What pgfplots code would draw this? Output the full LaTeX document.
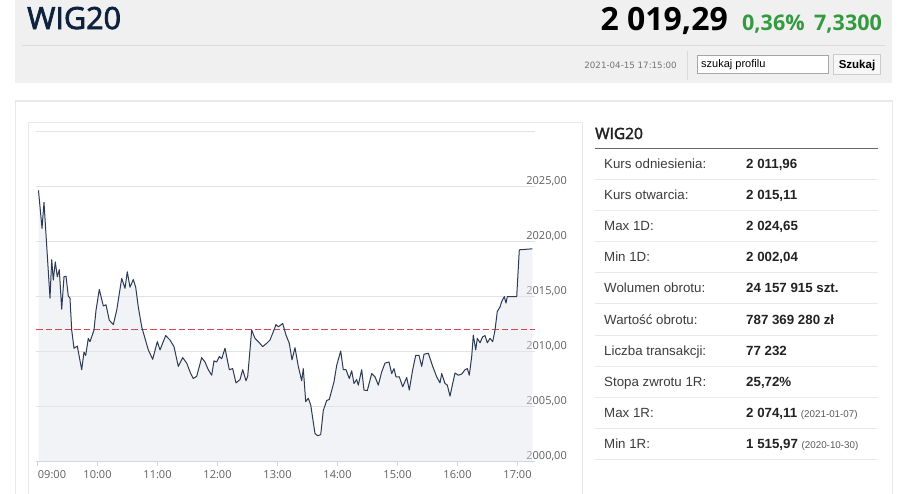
\documentclass[border=0pt]{standalone}
\usepackage{fontspec}
\usepackage{pgfplots}
\usepackage{pgfplotstable}
\pgfplotsset{compat=1.18}
\setmainfont{Liberation Sans}
\newfontfamily\osf{Open Sans}
\newfontfamily\osfm[FakeBold=2.5]{Open Sans}
\newfontfamily\dvs{DejaVu Sans}
\newcommand\fs[1]{\fontsize{#1}{#1}\selectfont}
\definecolor{hdr}{RGB}{240,240,240}
\definecolor{hdrline}{RGB}{218,218,218}
\definecolor{navy}{RGB}{14,34,62}
\definecolor{upgreen}{RGB}{52,154,64}
\definecolor{cardcol}{RGB}{232,232,232}
\definecolor{linecol}{RGB}{44,58,84}
\definecolor{fillcol}{RGB}{226,230,237}
\definecolor{gridcol}{RGB}{226,226,226}
\definecolor{axiscol}{RGB}{204,214,235}
\definecolor{refcol}{RGB}{215,70,80}
\definecolor{labcol}{RGB}{95,95,95}
\definecolor{rowsep}{RGB}{233,233,233}
\definecolor{tlab}{RGB}{60,60,60}
\definecolor{tval}{RGB}{34,34,34}

\pgfplotstableread{
m v
1 2024.6
4.5 2021.15
6.5 2023.5
12.5 2014.8
14.2 2018.3
15.8 2016.45
17.8 2018.1
19.8 2016.75
21.8 2017.4
24.2 2013.8
26.5 2016.75
28.5 2016.8
30.8 2015.0
32.5 2014.8
34.2 2011.9
36.5 2010.25
39.8 2010.45
44.2 2008.3
46.5 2009.9
48.2 2009.6
50.8 2011.15
52.5 2010.85
56.5 2011.9
58.5 2013.7
61.8 2015.6
65.8 2014.1
68.5 2014.2
71.8 2012.8
75.8 2012.4
79.2 2013.7
84.2 2016.6
87.5 2015.7
89.8 2017.2
92.5 2015.8
95.8 2016.5
98.2 2015.8
100.8 2014.0
104.2 2012.2
107.5 2011.15
110.8 2010.1
115.2 2009.25
119.8 2010.85
122.5 2010.1
128.2 2011.4
132.5 2011.0
136.5 2010.4
140.8 2008.6
145.2 2009.4
149.2 2008.9
153.2 2007.95
155.8 2007.5
159.2 2007.7
164.2 2009.4
167.5 2009.0
170.8 2008.3
174.2 2007.8
176.5 2009.1
179.2 2009.0
181.8 2009.5
184.2 2009.3
187.5 2010.25
191.8 2008.3
195.2 2008.4
198.5 2007.1
202.5 2007.4
205.2 2008.3
208.5 2007.3
210.2 2007.7
214.2 2011.9
217.5 2011.15
221.8 2010.75
225.2 2010.4
229.2 2010.7
232.5 2011.0
235.8 2011.75
238.5 2012.4
240.8 2012.2
245.2 2012.5
248.5 2011.45
251.8 2010.7
254.5 2009.2
257.5 2010.3
260.8 2008.6
264.2 2007.3
265.8 2008.4
268.2 2005.4
270.8 2005.7
273.2 2005.1
277.5 2002.5
280.2 2002.3
283.2 2002.4
285.8 2004.6
289.2 2005.5
291.8 2005.6
296.5 2007.2
299.2 2008.7
303.2 2010.0
305.8 2008.3
308.5 2008.3
311.8 2007.5
314.2 2008.2
316.5 2007.05
319.2 2007.4
320.8 2006.9
324.2 2008.3
326.5 2006.45
329.8 2006.4
334.2 2007.95
337.5 2007.65
340.8 2006.9
344.2 2008.1
347.5 2008.9
351.5 2009.0
354.2 2007.95
356.5 2008.4
358.5 2007.65
361.8 2007.65
365.2 2006.75
369.2 2007.6
371.8 2006.45
375.2 2008.3
378.2 2009.6
381.5 2009.6
384.2 2008.6
386.5 2009.7
390.8 2009.8
395.2 2008.6
399.2 2007.65
402.5 2007.1
404.2 2007.95
407.5 2007.05
409.8 2006.9
412.5 2005.9
415.2 2007.05
417.5 2008.0
420.8 2007.8
424.2 2007.9
427.5 2008.3
429.8 2008.4
431.8 2007.8
434.2 2009.5
435.8 2011.45
438.2 2010.1
439.8 2011.15
442.5 2010.75
445.2 2011.3
447.5 2011.4
449.8 2010.75
452.5 2011.15
455.2 2010.85
457.5 2011.9
459.8 2013.6
462.5 2014.0
464.2 2014.5
466.8 2014.95
468.5 2014.35
469.8 2014.95
479.2 2014.95
481.8 2019.2
494.8 2019.29
}\wig

\begin{document}
\begin{tikzpicture}
\begin{scope}[x=1pt,y=-1pt]
\path[use as bounding box, fill=white] (0,0) rectangle (912,493);
% header
\fill[hdr] (15,0) rectangle (892,82.5);
\draw[hdrline, line width=1pt] (22,45.5) -- (885,45.5);
\node[anchor=base west, inner sep=0pt, text=navy] at (27,29) {\osfm\fs{30.5}WIG20};
\node[anchor=base east, inner sep=0pt, text=black] at (728,30) {\osf\bfseries\fs{32}2 019,29};
\node[anchor=base west, inner sep=0pt, text=upgreen] at (742,30) {\osf\bfseries\fs{21.5}0,36\%};
\node[anchor=base east, inner sep=0pt, text=upgreen] at (882,30) {\osf\bfseries\fs{21.5}7,3300};
\node[anchor=base east, inner sep=0pt, text=black!55] at (677,68.5) {\dvs\fs{8.7}2021-04-15 17:15:00};
\draw[hdrline, line width=0.8pt] (687,51) -- (687,80);
\filldraw[fill=white, draw=black!35, line width=0.8pt] (697.5,55) rectangle (828,73);
\node[anchor=base west, inner sep=0pt] at (701,67.5) {\fs{11}szukaj profilu};
\filldraw[fill=black!3, draw=black!20, line width=0.8pt] (833.5,54.5) rectangle (880,74.5);
\node[anchor=base, inner sep=0pt] at (857,68.5) {\bfseries\fs{11.5}Szukaj};
% cards
\draw[cardcol, line width=1.5pt] (15.5,101) rectangle (892.5,510);
\draw[cardcol, line width=1pt] (28.5,122) rectangle (582,510);
% table
\node[anchor=base west, inner sep=0pt, text=tval] at (595,139) {\osfm\fs{15.5}WIG20};
\draw[black!60, line width=1pt] (595,148.5) -- (878,148.5);
\foreach \k in {0,...,9} {\draw[rowsep, line width=1pt] (595,179.5+31.1*\k) -- (878,179.5+31.1*\k);}
\begin{scope}[every node/.style={anchor=base west, inner sep=0pt}]
\foreach \lab [count=\i from 0] in {Kurs odniesienia:,Kurs otwarcia:,Max 1D:,Min 1D:,Wolumen obrotu:,Wartość obrotu:,Liczba transakcji:,Stopa zwrotu 1R:,Max 1R:,Min 1R:}
  {\node[text=tlab] at (604,168.5+31.1*\i) {\fs{13.3}\lab};}
\node[text=tval] at (746,168.5) {\bfseries\fs{13.3}2 011,96};
\node[text=tval] at (746,199.6) {\bfseries\fs{13.3}2 015,11};
\node[text=tval] at (746,230.7) {\bfseries\fs{13.3}2 024,65};
\node[text=tval] at (746,261.8) {\bfseries\fs{13.3}2 002,04};
\node[text=tval] at (746,292.9) {\bfseries\fs{13.3}24 157 915 szt.};
\node[text=tval] at (746,324.0) {\bfseries\fs{13.3}787 369 280 zł};
\node[text=tval] at (746,355.1) {\bfseries\fs{13.3}77 232};
\node[text=tval] at (746,386.2) {\bfseries\fs{13.3}25,72\%};
\node[text=tval] at (746,417.3) {\bfseries\fs{13.3}2 074,11 {\mdseries\color{black!65}\fs{9.8}(2021-01-07)}};
\node[text=tval] at (746,448.4) {\bfseries\fs{13.3}1 515,97 {\mdseries\color{black!65}\fs{9.8}(2020-10-30)}};
\end{scope}
\end{scope}
% chart
\begin{axis}[
  at={(36pt,-461pt)}, anchor=south west,
  scale only axis, width=499pt, height=330pt,
  xmin=-1.5, xmax=497.5, ymin=2000, ymax=2030,
  axis line style={draw=none},
  xtick={0,60,...,480},
  xticklabels={{\hspace*{29pt}09:00},10:00,11:00,12:00,13:00,14:00,15:00,16:00,17:00},
  xtick pos=bottom, xtick align=outside,
  major tick length=5pt,
  xtick style={draw=axiscol, line width=1pt},
  xticklabel style={font=\osf\fs{11}, text=labcol, anchor=north, inner sep=0pt, yshift=-4.4pt},
  ytick={2005,2010,...,2030},
  yticklabels={{2005,00},{2010,00},{2015,00},{2020,00},{2025,00},{}},
  ytick style={draw=none},
  yticklabel pos=right,
  yticklabel style={font=\osf\fs{11}, text=labcol, anchor=base east, inner sep=0pt, xshift=32pt, yshift=2pt},
  ymajorgrids, grid style={gridcol, line width=1pt},
  extra y ticks={2000},
  extra y tick labels={2000{,}00},
  extra y tick style={grid style={axiscol, line width=1pt}},
]
\addplot[draw=none, fill=fillcol, fill opacity=0.45] table[x=m,y=v] {\wig} \closedcycle;
\addplot[refcol, line width=1pt, dash pattern=on 6.5pt off 3pt] coordinates {(-1.5,2011.96) (497.5,2011.96)};
\addplot[linecol, line width=1pt, line join=round] table[x=m,y=v] {\wig};
\end{axis}
\end{tikzpicture}
\end{document}
